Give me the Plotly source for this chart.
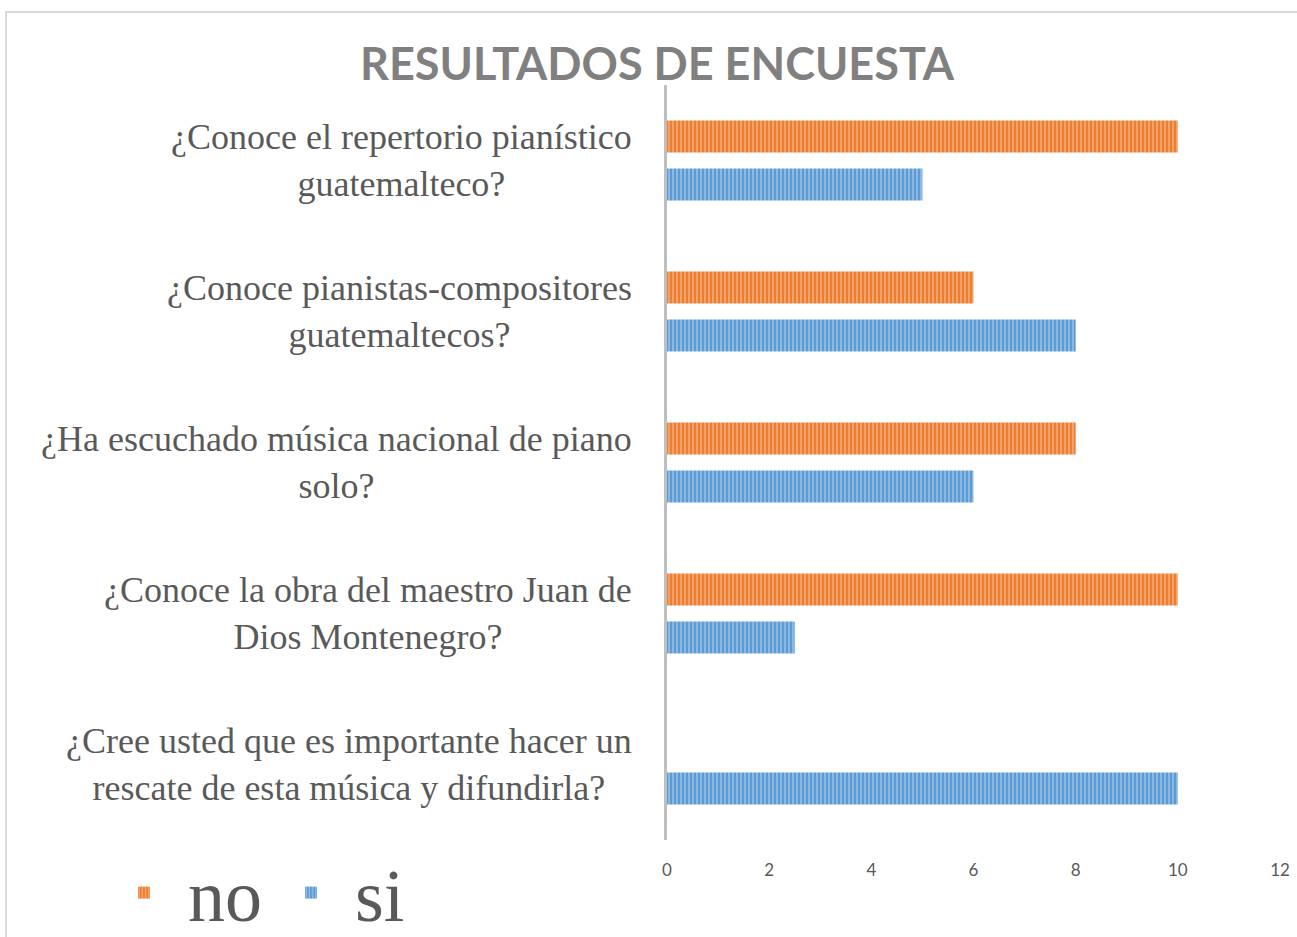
import plotly.graph_objects as go

categories = [
    "¿Conoce el repertorio pianístico<br>guatemalteco?",
    "¿Conoce pianistas-compositores<br>guatemaltecos?",
    "¿Ha escuchado música nacional de piano<br>solo?",
    "¿Conoce la obra del maestro Juan de<br>Dios Montenegro?",
    "¿Cree usted que es importante hacer un<br>rescate de esta música y difundirla?",
]
no_values = [10, 6, 8, 10, 0]
si_values = [5, 8, 6, 2.5, 10]
x_ticks = [0, 2, 4, 6, 8, 10, 12]

W, H = 1297, 937
L, R, T, B = 667, 17, 85, 97
pw, ph = W - L - R, H - T - B

fig = go.Figure()
fig.add_trace(go.Bar(
    name="no", y=categories, x=no_values, orientation="h",
    marker=dict(color="#ED7D31", line=dict(width=0),
                pattern=dict(shape="|", fillmode="overlay", fgcolor="#F9CDAE",
                             size=4, solidity=0.45)),
))
fig.add_trace(go.Bar(
    name="si", y=categories, x=si_values, orientation="h",
    marker=dict(color="#5B9BD5", line=dict(width=0),
                pattern=dict(shape="|", fillmode="overlay", fgcolor="#C8DEF2",
                             size=4, solidity=0.45)),
))

for c in categories:
    fig.add_annotation(
        xref="paper", yref="y", x=(634 - L) / pw, y=c, text=c,
        xanchor="right", yanchor="middle", align="center", showarrow=False,
        font=dict(family="Liberation Serif", size=36, color="#595959"),
    )

fig.add_shape(
    type="rect", xref="paper", yref="paper",
    x0=(6 - L) / pw, x1=(W + 20 - L) / pw,
    y0=(H - B - (H + 20)) / ph, y1=(H - B - 12) / ph,
    line=dict(color="#D9D9D9", width=2), fillcolor="rgba(0,0,0,0)", layer="below",
)

fig.update_layout(
    width=W, height=H,
    margin=dict(l=L, r=R, t=T, b=B, autoexpand=False),
    paper_bgcolor="white", plot_bgcolor="white",
    barmode="group", bargap=0.364, bargroupgap=0.333,
    title=dict(text="<b>RESULTADOS DE ENCUESTA</b>", x=657 / W, xanchor="center",
               y=1 - 64 / H, yanchor="middle", yref="container",
               font=dict(family="Lato", size=45, color="#808080")),
    xaxis=dict(range=[0, 12], tickvals=x_ticks, showgrid=False, zeroline=False,
               showline=False, ticks="", ticklabelstandoff=18,
               tickfont=dict(family="Lato", size=17, color="#595959")),
    yaxis=dict(autorange="reversed", showticklabels=False, showgrid=False,
               zeroline=False, showline=True, linecolor="#BFBFBF", linewidth=3,
               ticks=""),
    legend=dict(orientation="h", x=(100 - L) / pw, xanchor="left",
                y=(H - B - 893) / ph, yanchor="middle",
                bgcolor="rgba(0,0,0,0)",
                font=dict(family="Liberation Serif", size=74, color="#595959"),
                traceorder="normal", itemwidth=78),
    showlegend=True,
)

fig.write_html("out.html", config={"displayModeBar": False},
               post_script="document.body.style.margin='0';")
